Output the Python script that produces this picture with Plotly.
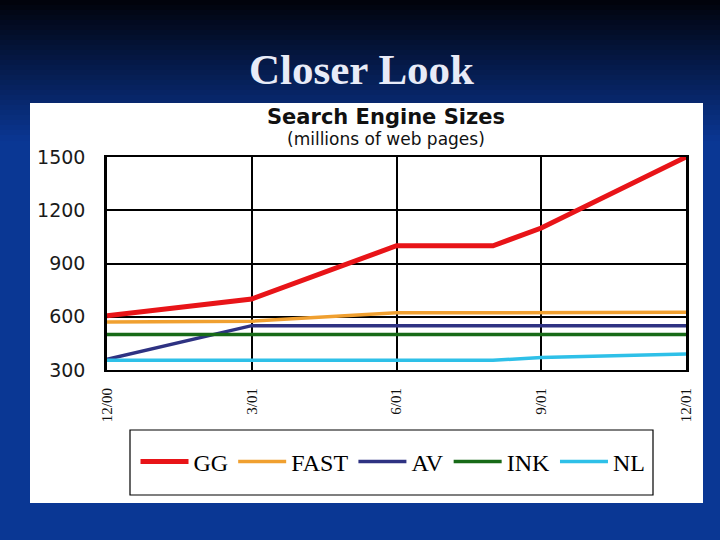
import plotly.graph_objects as go

# ---- data ----
month_ticks = [0, 3, 6, 9, 12]
month_labels = ["12/00", "3/01", "6/01", "9/01", "12/01"]
y_ticks = [300, 600, 900, 1200, 1500]

gg_x = [0, 3, 6, 8, 9, 12]
gg_y = [605, 700, 1000, 1000, 1100, 1500]
fast_x = [0, 3, 6, 12]
fast_y = [570, 575, 622, 625]
av_x = [0, 3, 12]
av_y = [360, 550, 550]
ink_x = [0, 12]
ink_y = [500, 500]
nl_x = [0, 8, 9, 12]
nl_y = [355, 355, 370, 390]

series = [
    ("GG", gg_x, gg_y, "#E81418", 5),
    ("FAST", fast_x, fast_y, "#F0A030", 3.5),
    ("AV", av_x, av_y, "#2E3282", 3.5),
    ("INK", ink_x, ink_y, "#176A17", 3.5),
    ("NL", nl_x, nl_y, "#2EC0E8", 3.5),
]

# ---- layout geometry (pixels) ----
W, H = 720, 540
L, R, T, B = 107, 34, 157, 170
PW, PH = W - L - R, H - T - B


def px(xp):
    return (xp - L) / PW


def py(yp):
    return (H - B - yp) / PH


fig = go.Figure()
for name, xs, ys, color, lw in series:
    fig.add_trace(go.Scatter(x=xs, y=ys, mode="lines", name=name,
                             line=dict(color=color, width=lw)))

shapes = []
# slide background gradient
top_c = (1, 3, 12)
bot_c = (10, 53, 144)
n = 28
for i in range(n):
    t = i / (n - 1)
    c = tuple(int(round(a + (b - a) * t)) for a, b in zip(top_c, bot_c))
    y0 = i * 5
    shapes.append(dict(type="rect", xref="paper", yref="paper", layer="below",
                       x0=px(0), x1=px(W), y0=py(y0), y1=py(y0 + 5.5),
                       fillcolor="rgb(%d,%d,%d)" % c, line=dict(width=0)))
# white panel
shapes.append(dict(type="rect", xref="paper", yref="paper", layer="below",
                   x0=px(30), x1=px(703), y0=py(503), y1=py(103),
                   fillcolor="white", line=dict(width=0)))
# legend box
shapes.append(dict(type="rect", xref="paper", yref="paper", layer="below",
                   x0=px(130), x1=px(653), y0=py(495), y1=py(430),
                   fillcolor="rgba(0,0,0,0)", line=dict(color="black", width=1.2)))

annotations = [
    dict(text="<b>Closer Look</b>", x=px(361), y=py(69), xref="paper", yref="paper",
         showarrow=False, xanchor="center", yanchor="middle",
         font=dict(family="Liberation Serif", size=43, color="#E8EBF7")),
    dict(text="<b>Search Engine Sizes</b>", x=px(386), y=py(117), xref="paper", yref="paper",
         showarrow=False, xanchor="center", yanchor="middle",
         font=dict(family="DejaVu Sans", size=21, color="#111111")),
    dict(text="(millions of web pages)", x=px(386), y=py(139), xref="paper", yref="paper",
         showarrow=False, xanchor="center", yanchor="middle",
         font=dict(family="DejaVu Sans", size=17, color="#111111")),
]

fig.update_layout(
    width=W, height=H,
    margin=dict(l=L, r=R, t=T, b=B, pad=0),
    paper_bgcolor="rgb(10,55,148)",
    plot_bgcolor="rgba(0,0,0,0)",
    shapes=shapes,
    annotations=annotations,
    showlegend=True,
    legend=dict(orientation="h", x=px(393), y=py(462), xanchor="center", yanchor="middle",
                bgcolor="rgba(0,0,0,0)", borderwidth=0,
                font=dict(family="Liberation Serif", size=24, color="black"),
                itemwidth=48, tracegroupgap=0),
    xaxis=dict(range=[0, 12], tickvals=month_ticks, ticktext=month_labels,
               tickangle=-90, showgrid=True, gridcolor="black", gridwidth=2,
               zeroline=False, showline=True, linecolor="black", linewidth=2,
               mirror=True, ticks="", ticklabelstandoff=10,
               tickfont=dict(family="Liberation Serif", size=15, color="#111111"),
               fixedrange=True),
    yaxis=dict(range=[300, 1500], tickvals=y_ticks, showgrid=True, gridcolor="black",
               gridwidth=1.5, zeroline=False, showline=True, linecolor="black",
               linewidth=2.5, mirror=True, ticks="", ticklabelstandoff=15,
               tickfont=dict(family="DejaVu Sans", size=19, color="#1a1a1a"),
               fixedrange=True),
)

fig.write_html("out.html", config={"displayModeBar": False},
               post_script="document.body.style.margin='0';document.body.style.overflow='hidden';")
